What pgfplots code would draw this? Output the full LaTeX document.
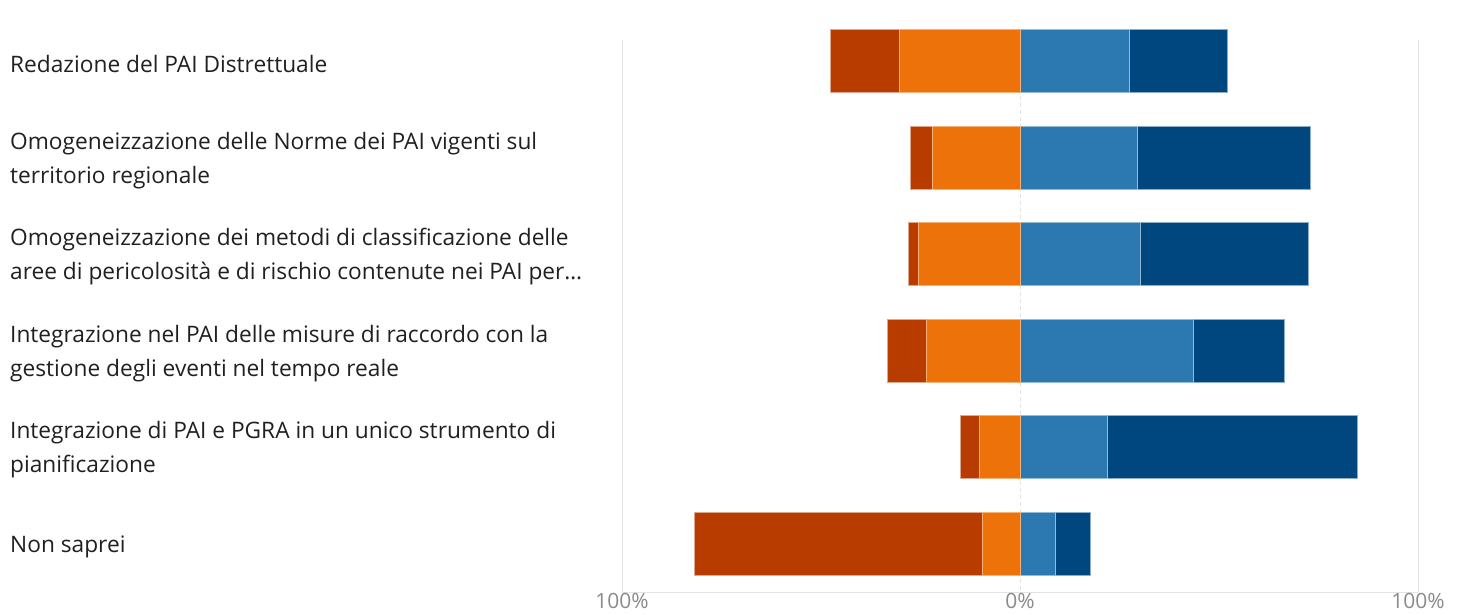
\documentclass[border=0pt]{standalone}
\usepackage{pgfplots}
\pgfplotsset{compat=1.18}
\usepackage{pgfplotstable}
\usepackage{fontspec}
\setmainfont{Open Sans}
\setsansfont{Open Sans}
\definecolor{cdo}{HTML}{B83B00}
\definecolor{cor}{HTML}{EE720A}
\definecolor{clb}{HTML}{2C78B0}
\definecolor{cdb}{HTML}{01477F}
\definecolor{gridc}{HTML}{E3E3E3}
\definecolor{tickc}{HTML}{8A8A8A}
\definecolor{labc}{HTML}{202020}

% row: 0 = top; negative shares are stored with their sign
\pgfplotstableread{
row  ora    dor    lbl   dbl
0   -30.4  -17.1   27.6  24.6
1   -21.9   -5.5   29.6  43.5
2   -25.6   -2.3   30.2  42.2
3   -23.4  -10.0   43.5  22.9
4   -10.1   -4.8   22.1  62.8
5    -9.3  -72.6    9.0   8.8
}\likert

\begin{document}
\begin{tikzpicture}[x=1pt,y=1pt]
\path[use as bounding box] (0,0) rectangle (1460,614);
\begin{axis}[
  at={(622pt,22pt)}, anchor=south west,
  scale only axis, width=796pt, height=552pt,
  xmin=-100, xmax=100,
  ymin=-0.22, ymax=5.5, y dir=reverse,
  clip=false,
  xbar stacked, stack negative=separate,
  bar width=63pt,
  axis y line=none,
  axis x line=bottom,
  x axis line style={draw=gridc, line width=1pt, -},
  xtick={-100,100}, xticklabels={100\%,100\%},
  extra x ticks={0}, extra x tick labels={0\%},
  xmajorgrids,
  grid style={draw=gridc, line width=1pt},
  extra x tick style={grid style={draw=gridc, line width=1pt, dash pattern=on 4pt off 3pt}},
  major tick length=0pt,
  /pgf/number format/assume math mode=true,
  xticklabel style={font=\fontsize{21}{24}\selectfont, text=tickc, inner sep=1pt},
  ytick=\empty,
]
\addplot[fill=cor, draw=cor!55!white, line width=1pt] table[x=ora, y=row] {\likert};
\addplot[fill=cdo, draw=cdo!45!white, line width=1pt] table[x=dor, y=row] {\likert};
\addplot[fill=clb, draw=clb!50!white, line width=1pt] table[x=lbl, y=row] {\likert};
\addplot[fill=cdb, draw=cdb!45!white, line width=1pt] table[x=dbl, y=row] {\likert};
\end{axis}
\begin{scope}[every node/.style={anchor=west, align=left, inner sep=0pt, text=labc,
    font=\fontsize{22.7}{34}\selectfont}]
\node at (10,550) {Redazione del PAI Distrettuale};
\node at (10,453) {Omogeneizzazione delle Norme dei PAI vigenti sul\\territorio regionale};
\node at (10,357) {Omogeneizzazione dei metodi di classificazione delle\\aree di pericolosità e di rischio contenute nei PAI per\dots};
\node at (10,260) {Integrazione nel PAI delle misure di raccordo con la\\gestione degli eventi nel tempo reale};
\node at (10,164) {Integrazione di PAI e PGRA in un unico strumento di\\pianificazione};
\node at (10,67) {Non saprei};
\end{scope}
\end{tikzpicture}
\end{document}
